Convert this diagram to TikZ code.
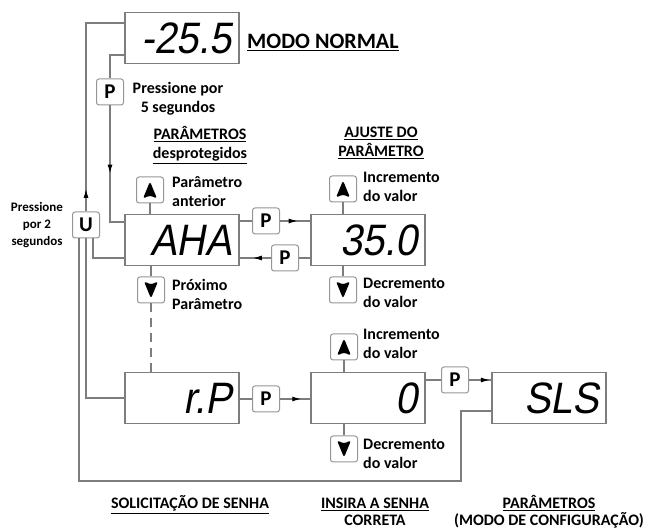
\documentclass[tikz,border=0pt]{standalone}
\usepackage{fontspec}
\setmainfont{Carlito}
\newfontfamily\segfont[FakeSlant=0.18, FakeStretch=0.9]{Liberation Sans}
\usetikzlibrary{positioning, calc, arrows.meta, decorations.markings}
\definecolor{wiregray}{RGB}{125,125,125}
\definecolor{keygray}{RGB}{150,150,150}
\newcommand\lblfont{\fontsize{16}{19}\selectfont\bfseries}

\begin{document}
\begin{tikzpicture}[x=1pt, y=-1pt,
    wire/.style={draw=wiregray, line width=1.2pt},
    midarrow/.style={postaction={decorate, decoration={markings,
      mark=at position #1 with {\arrow{Latex[length=9pt, width=5pt, color=black]}}}}},
    display/.style={draw=wiregray, line width=1.2pt, minimum width=114pt,
      minimum height=51pt, text width=100pt, inner xsep=7pt, align=right,
      font=\segfont\fontsize{44}{44}\selectfont},
    key/.style={draw=keygray, line width=1pt, rounded corners=2.5pt, fill=white,
      minimum width=27pt, minimum height=26pt, inner sep=0pt,
      font=\fontsize{21}{21}\selectfont\bfseries},
    keyup/.style={key, path picture={\fill[black]
      ($(path picture bounding box.center)+(0pt,8.5pt)$) -- ++(-7pt,-17pt)
      -- ++(7pt,3pt) -- ++(7pt,-3pt) -- cycle;}},
    keydown/.style={key, path picture={\fill[black]
      ($(path picture bounding box.center)+(0pt,-8.5pt)$) -- ++(-7pt,17pt)
      -- ++(7pt,-3pt) -- ++(7pt,3pt) -- cycle;}},
    lbl/.style={font=\lblfont, inner sep=0pt, align=left},
    title/.style={lbl, align=center}]
    \useasboundingbox (0,0) rectangle (649,529);

    \node[display] (normal) at (182,38) {-25.5};
    \node[display] (aha) at (182,240) {AHA};
    \node[display] (ajuste) at (368,240) {35.0};
    \node[display] (rp) at (182,398) {r.P};
    \node[display] (senha) at (368,398) {0};
    \node[display] (sls) at (549,398) {SLS};

    \node[key] (p1) at (110,92) {P};
    \node[key] (u) at (86,225) {U};
    \node[key] (p2) at (266,221) {P};
    \node[key] (p3) at (285,258) {P};
    \node[key] (p4) at (266,399) {P};
    \node[key] (p5) at (455,380) {P};
    \foreach \n/\x/\y in {ahaup/150/190, ajup/343/189, senup/344/347} {
      \node[keyup] (\n) at (\x,\y) {};
    }
    \foreach \n/\x/\y in {ahadn/151/290, ajdn/343/290, sendn/344/449} {
      \node[keydown] (\n) at (\x,\y) {};
    }
    \coordinate (loop) at (461,481);

    \draw[wire] ([yshift=-17pt]normal.west) -| (p1.north);
    \draw[wire, midarrow=0.52] (p1.south) |- ([yshift=18pt]aha.west);
    \draw[wire, midarrow=0.1] (u.north) |- ([yshift=15pt]normal.west);
    \draw[wire] ([yshift=-18pt]aha.west) -| ([xshift=7pt]u.south);
    \draw[wire] (rp.west) -| (u.south);
    \draw[wire] ([yshift=-13pt]sls.west) -| (loop) -| ([xshift=-7pt]u.south);

    \draw[wire] ([yshift=19pt]aha.east) -- (p2.west);
    \draw[wire, midarrow=0.58] (p2.east) -- (ajuste.west |- p2);
    \draw[wire] ([yshift=-18pt]ajuste.west) -- (p3.east);
    \draw[wire, midarrow=0.58] (p3.west) -- (aha.east |- p3);
    \draw[wire] (rp.east |- p4) -- (p4.west);
    \draw[wire, midarrow=0.7] (p4.east) -- (senha.west |- p4);
    \draw[wire] (senha.east |- p5) -- (p5.west);
    \draw[wire, midarrow=0.93] (p5.east) -- (sls.west |- p5);

    \draw[wire] (ahaup.south) -- (ahaup.south |- aha.north);
    \draw[wire] (ahadn.north |- aha.south) -- (ahadn.north);
    \draw[wire, dash pattern=on 9pt off 6pt] (ahadn.south) -- (ahadn.south |- rp.north);
    \draw[wire] (ajup.south) -- (ajup.south |- ajuste.north);
    \draw[wire] (ajdn.north |- ajuste.south) -- (ajdn.north);
    \draw[wire] (senup.south) -- (senup.south |- senha.north);
    \draw[wire] (sendn.north |- senha.south) -- (sendn.north);

    \node[lbl, anchor=base west, font=\fontsize{22}{24}\selectfont\bfseries]
      (modo) at (247,49) {\underline{MODO NORMAL}};
    \node[title, anchor=base] (pressp) at (178,113) {Pressione por\\5 segundos};
    \node[title, anchor=base] (despr) at (200,159) {\underline{PARÂMETROS}\\\underline{desprotegidos}};
    \node[title, anchor=base] (ajtit) at (381,157) {\underline{AJUSTE DO}\\\underline{PARÂMETRO}};
    \node[lbl, anchor=base west] (ant) at (172,207) {Parâmetro\\anterior};
    \node[lbl, anchor=base west] (prox) at (172,310) {Próximo\\Parâmetro};
    \node[lbl, anchor=base west] (inc1) at (363,202) {Incremento\\do valor};
    \node[lbl, anchor=base west] (dec1) at (363,308) {Decremento\\do valor};
    \node[lbl, anchor=base west] (inc2) at (363,359) {Incremento\\do valor};
    \node[lbl, anchor=base west] (dec2) at (363,469) {Decremento\\do valor};
    \node[title, anchor=base, font=\fontsize{13}{17}\selectfont\bfseries]
      (pressu) at (37,246) {Pressione\\por 2\\segundos};
    \node[title, anchor=base] (solic) at (190,509) {\underline{SOLICITAÇÃO DE SENHA}};
    \node[title, anchor=base, font=\fontsize{16}{17}\selectfont\bfseries]
      (insira) at (375,526) {\underline{INSIRA A SENHA}\\CORRETA};
    \node[title, anchor=base, font=\fontsize{16}{17}\selectfont\bfseries]
      (config) at (549,526) {\underline{PARÂMETROS}\\(MODO DE CONFIGURAÇÃO)};
\end{tikzpicture}
\end{document}
